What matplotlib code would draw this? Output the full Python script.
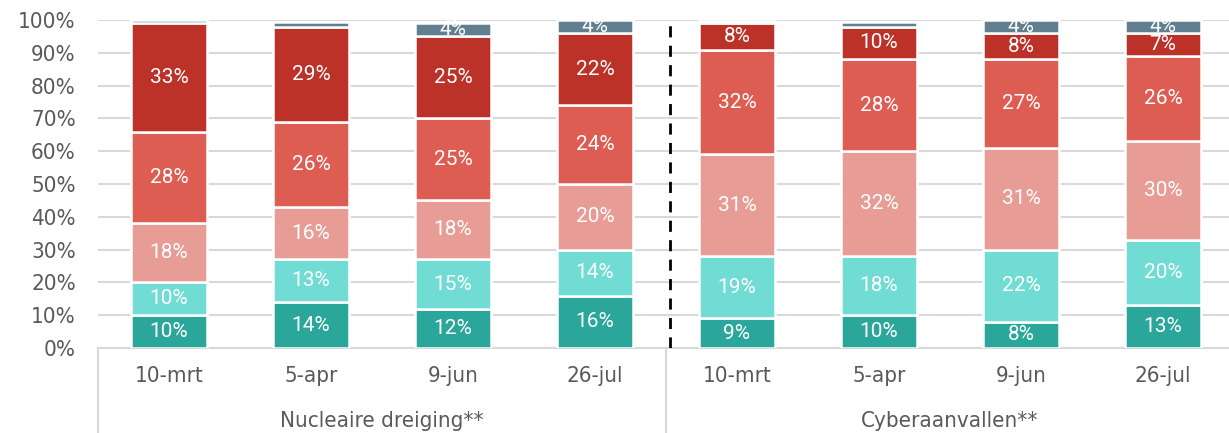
import matplotlib.pyplot as plt
import numpy as np

# categorieen en reeksen (van onder naar boven)
dates = ["10-mrt", "5-apr", "9-jun", "26-jul", "10-mrt", "5-apr", "9-jun", "26-jul"]
groups = ["Nucleaire dreiging**", "Cyberaanvallen**"]

s1 = [10, 14, 12, 16, 9, 10, 8, 13]
s2 = [10, 13, 15, 14, 19, 18, 22, 20]
s3 = [18, 16, 18, 20, 31, 32, 31, 30]
s4 = [28, 26, 25, 24, 32, 28, 27, 26]
s5 = [33, 29, 25, 22, 8, 10, 8, 7]
s6 = [1, 1.5, 4, 4, 0.8, 1.5, 4, 4]

series = [s1, s2, s3, s4, s5, s6]
colors = ["#2ba69a", "#70dcd4", "#e89c96", "#de5d53", "#bc3128", "#627e91"]

fig = plt.figure(figsize=(12.29, 4.33), dpi=100)
ax = fig.add_axes([98 / 1229, 85 / 433, 1136 / 1229, 328 / 433])

x = np.arange(len(dates))
bottom = np.zeros(len(dates))
for vals, c in zip(series, colors):
    vals = np.array(vals, dtype=float)
    ax.bar(x, vals, 0.54, bottom=bottom, color=c, edgecolor="white", linewidth=1.8, zorder=3)
    for xi, b, v in zip(x, bottom, vals):
        if v >= 3:
            ax.text(xi, b + v / 2, f"{v:.0f}%", ha="center", va="center",
                    color="white", fontsize=15, family="Roboto", zorder=4)
    bottom += vals

ax.set_xlim(-0.5, 7.5)
ax.set_ylim(0, 100)
ax.set_yticks(range(0, 101, 10))
ax.set_yticklabels([f"{t}%" for t in range(0, 101, 10)])
ax.set_xticks(x)
ax.set_xticklabels(dates)
ax.tick_params(length=0, labelcolor="#595959")
ax.tick_params(axis="y", pad=16)
ax.tick_params(axis="x", pad=13)
for lab in ax.get_xticklabels() + ax.get_yticklabels():
    lab.set_fontsize(16)
    lab.set_fontstretch("condensed")
ax.grid(axis="y", color="#d9d9d9", linewidth=1.5, zorder=0)

for s in ["top", "right", "left"]:
    ax.spines[s].set_visible(False)
ax.spines["bottom"].set_color("#d9d9d9")
ax.spines["bottom"].set_linewidth(1.5)

# scheidingslijn tussen de groepen
ax.axvline(3.53, color="black", linestyle=(0, (4, 3)), linewidth=2, zorder=5)

# groepslabels en verticale lijntjes onder de as
tr = ax.get_xaxis_transform()
for xs in [-0.5, 3.5, 7.5]:
    ax.plot([xs, xs], [0, -0.3], color="#d9d9d9", linewidth=1.5, transform=tr, clip_on=False)
for gx, g in zip([1.5, 5.5], groups):
    ax.text(gx, -0.222, g, transform=tr, ha="center", va="center", fontsize=16,
            fontstretch="condensed", color="#595959")

fig.savefig("out.png", dpi=100)
